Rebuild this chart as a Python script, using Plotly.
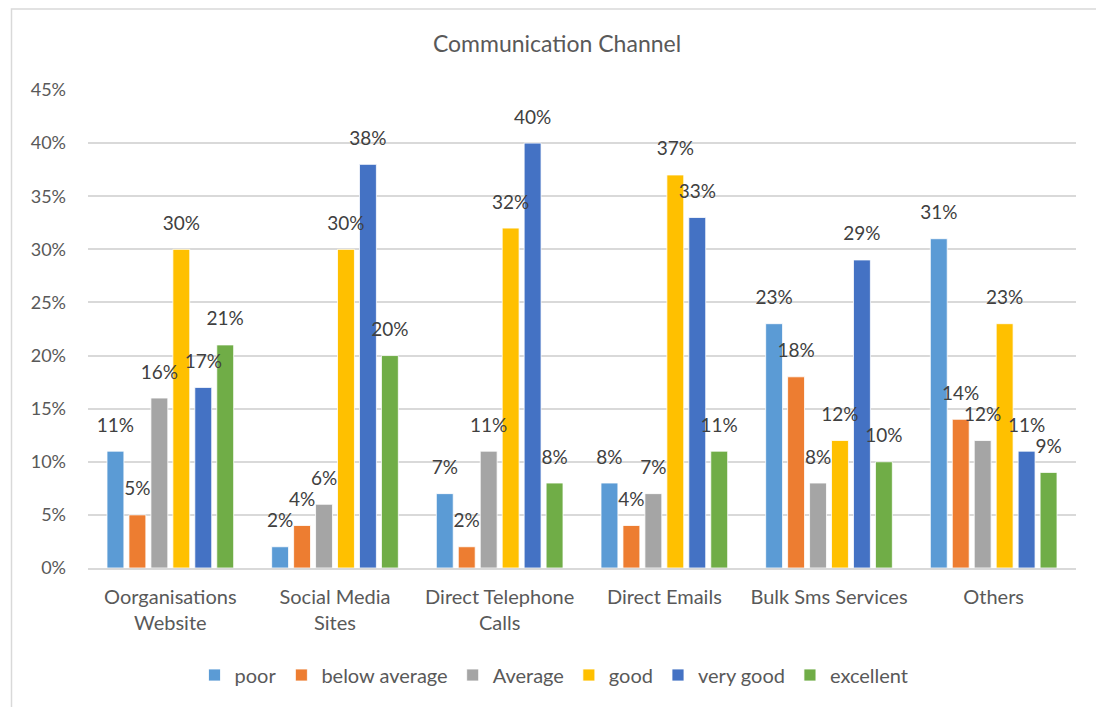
import plotly.graph_objects as go

categories = [
    "Oorganisations<br>Website",
    "Social Media<br>Sites",
    "Direct Telephone<br>Calls",
    "Direct Emails",
    "Bulk Sms Services",
    "Others",
]
series_names = ["poor", "below average", "Average", "good", "very good", "excellent"]
poor = [11, 2, 7, 8, 23, 31]
below_average = [5, 4, 2, 4, 18, 14]
average = [16, 6, 11, 7, 8, 12]
good = [30, 30, 32, 37, 12, 23]
very_good = [17, 38, 40, 33, 29, 11]
excellent = [21, 20, 8, 11, 10, 9]
colors = ["#5B9BD5", "#ED7D31", "#A5A5A5", "#FFC000", "#4472C4", "#70AD47"]

values = [poor, below_average, average, good, very_good, excellent]
FONT = "Lato, Carlito, Calibri, sans-serif"
TEXT = "#595959"

fig = go.Figure()
for name, vals, col in zip(series_names, values, colors):
    fig.add_trace(go.Bar(
        name=name, x=categories, y=vals,
        marker=dict(color=col, line=dict(color="white", width=0.8)),
        hoverinfo="skip",
    ))
# value labels, grouped to line up with the bars
for name, vals in zip(series_names, values):
    fig.add_trace(go.Scatter(
        x=categories, y=vals, mode="markers+text",
        text=[f"{v}%" for v in vals], textposition="top center",
        textfont=dict(family=FONT, size=19, color="#404040"),
        marker=dict(size=22, color="rgba(0,0,0,0)"),
        showlegend=False, hoverinfo="skip", cliponaxis=False,
    ))

L, R, T, B = 88, 20, 90, 139
W, H = 1096, 707
pw, ph = W - L - R, H - T - B

fig.update_layout(
    width=W, height=H,
    margin=dict(l=L, r=R, t=T, b=B),
    paper_bgcolor="white", plot_bgcolor="white",
    barmode="group", bargap=0.2, bargroupgap=0.23,
    scattermode="group", scattergap=0.2,
    font=dict(family=FONT, size=18, color=TEXT),
    title=dict(text="Communication Channel", x=557 / W, xanchor="center",
               y=1 - 44 / H, yanchor="middle",
               font=dict(family=FONT, size=23, color=TEXT)),
    xaxis=dict(showgrid=False, showline=True, linecolor="#D9D9D9", linewidth=2,
               ticks="", tickfont=dict(size=20, color=TEXT), ticklabelstandoff=10),
    yaxis=dict(range=[0, 45], dtick=5, ticksuffix="%", showgrid=True,
               gridcolor="#D9D9D9", gridwidth=1.5, zeroline=False, showline=False,
               tickfont=dict(size=18, color=TEXT), ticklabelstandoff=21),
    legend=dict(orientation="h", x=0.5 - 28 / pw, xanchor="center",
                y=(568 - 675) / ph, yanchor="middle",
                font=dict(size=20, color=TEXT), itemwidth=30,
                traceorder="normal"),
    showlegend=True,
)
# chart-area frame
fig.add_shape(type="rect", xref="paper", yref="paper",
              x0=(11.5 - L) / pw, x1=(W + 10 - L) / pw,
              y0=-(H + 10 - (H - B)) / ph, y1=(H - B - 9) / ph,
              line=dict(color="#D9D9D9", width=1.5), fillcolor="rgba(0,0,0,0)",
              layer="below")

fig.write_html("out.html")
